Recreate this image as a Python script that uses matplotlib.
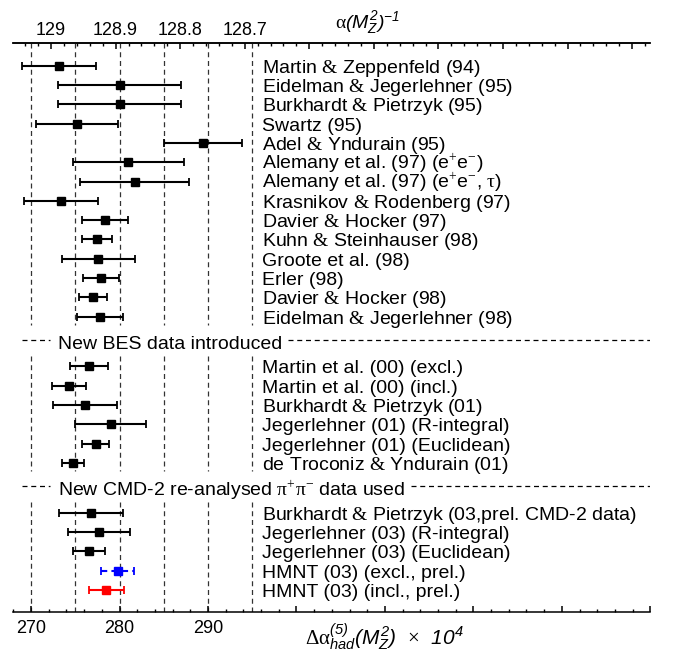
import matplotlib.pyplot as plt
from matplotlib.ticker import MultipleLocator

plt.rcParams['font.family'] = ['Liberation Sans', 'DejaVu Sans']
plt.rcParams['mathtext.fontset'] = 'custom'
plt.rcParams['mathtext.rm'] = 'Liberation Serif'
plt.rcParams['mathtext.it'] = 'Liberation Sans:italic'
plt.rcParams['mathtext.sf'] = 'Liberation Sans:italic'

# Delta alpha_had^(5)(MZ^2) x 10^4, one entry per analysis
labels = [
    'Martin & Zeppenfeld (94)',
    'Eidelman & Jegerlehner (95)',
    'Burkhardt & Pietrzyk (95)',
    'Swartz (95)',
    'Adel & Yndurain (95)',
    'Alemany et al. (97) (e$^{+}$e$^{-}$)',
    r'Alemany et al. (97) (e$^{+}$e$^{-}$, $\mathrm{\tau}$)',
    'Krasnikov & Rodenberg (97)',
    'Davier & Hocker (97)',
    'Kuhn & Steinhauser (98)',
    'Groote et al. (98)',
    'Erler (98)',
    'Davier & Hocker (98)',
    'Eidelman & Jegerlehner (98)',
    'Martin et al. (00) (excl.)',
    'Martin et al. (00) (incl.)',
    'Burkhardt & Pietrzyk (01)',
    'Jegerlehner (01) (R-integral)',
    'Jegerlehner (01) (Euclidean)',
    'de Troconiz & Yndurain (01)',
    'Burkhardt & Pietrzyk (03,prel. CMD-2 data)',
    'Jegerlehner (03) (R-integral)',
    'Jegerlehner (03) (Euclidean)',
    'HMNT (03) (excl., prel.)',
    'HMNT (03) (incl., prel.)',
]
values = [273.2, 280.0, 280.0, 275.2, 289.4, 281.0, 281.7, 273.4, 278.4, 277.5,
          277.6, 277.9, 277.0, 277.8, 276.5, 274.3, 276.1, 279.0, 277.3, 274.7,
          276.8, 277.7, 276.6, 279.8, 278.5]
errors = [4.2, 7.0, 7.0, 4.6, 4.4, 6.3, 6.2, 4.2, 2.6, 1.7,
          4.1, 2.0, 1.6, 2.6, 2.15, 1.9, 3.6, 4.0, 1.5, 1.25,
          3.6, 3.5, 1.8, 1.85, 2.0]
colors = ['black'] * 23 + ['blue', 'red']
group_sizes = [14, 6, 5]
headers = ['New BES data introduced',
           r'New CMD-2 re-analysed $\mathrm{\pi}^{+}\mathrm{\pi}^{-}$ data used']

# row positions (from top), with a gap for each header
gap = 2.58
ypos = []
header_y = []
y = 0.0
for g, n in enumerate(group_sizes):
    if g > 0:
        header_y.append(y - 1 + gap / 2)
        y = y - 1 + gap
    for i in range(n):
        ypos.append(y)
        y += 1

fig = plt.figure(figsize=(6.77, 6.56), dpi=100)
ax = fig.add_axes([0.0197, 0.0671, 0.9409, 0.8678])
ax.set_xlim(268, 340)
ax.set_ylim(ypos[-1] + 1.14, -1.19)

# vertical dashed reference lines, broken at the headers
starts = [-1.19] + [ypos[sum(group_sizes[:g])] - 0.55 for g in range(1, len(group_sizes))]
ends = [ypos[sum(group_sizes[:g + 1]) - 1] + 0.43 for g in range(len(group_sizes) - 1)] + [ypos[-1] + 1.14]
for xv in [270, 275, 280, 285, 290, 295]:
    for s, e in zip(starts, ends):
        ax.plot([xv, xv], [s, e], color='#333333', lw=0.9, ls=(0, (4, 3)), zorder=1)

for v, err, yy, c, lab in zip(values, errors, ypos, colors, labels):
    cont = ax.errorbar(v, yy, xerr=err, fmt='s', color=c, ms=5.6, lw=1.5,
                       capsize=3, capthick=1.3, zorder=3)
    if c == 'blue':
        cont[2][0].set_linestyle((0, (3, 2)))
    ax.text(296.1, yy + 0.36, lab.replace('&', r'$\mathrm{&}$'), fontsize=14,
            va='baseline', ha='left')

fig.canvas.draw()
rend = fig.canvas.get_renderer()
for hy, htxt in zip(header_y, headers):
    t = ax.text(273.1, hy + 0.41, htxt, fontsize=14, va='baseline', ha='left')
    bb = t.get_window_extent(rend).transformed(ax.transData.inverted())
    ax.plot([268.95, 272.1], [hy - 0.08, hy - 0.08], color='black', lw=0.9, ls=(0, (4, 3)))
    ax.plot([bb.x1 + 0.6, 340], [hy - 0.08, hy - 0.08], color='black', lw=0.9, ls=(0, (4, 3)))

for side in ['left', 'right']:
    ax.spines[side].set_visible(False)
ax.spines['bottom'].set_linewidth(1.1)
ax.spines['top'].set_linewidth(1.1)
ax.set_yticks([])
ax.set_xticks(range(270, 341, 10), ['270', '280', '290', '', '', '', '', ''])
ax.xaxis.set_minor_locator(MultipleLocator(2))
ax.tick_params(axis='x', which='both', direction='in', top=False, labelsize=13, pad=6)
ax.tick_params(axis='x', which='major', length=4, width=1.1)
ax.tick_params(axis='x', which='minor', length=2, width=1.0)

A = 132.731
B = 0.0137036
secax = ax.secondary_xaxis('top', functions=(lambda x: A - B * x, lambda a: (A - a) / B))
secax.set_xticks([129.0, 128.9, 128.8, 128.7, 128.6, 128.5, 128.4, 128.3, 128.2, 128.1],
                 ['129', '128.9', '128.8', '128.7', '', '', '', '', '', ''])
secax.set_xticks([round(128.02 + 0.02 * i, 2) for i in range(52)], minor=True)
secax.tick_params(axis='x', which='both', direction='in', labelsize=13, pad=2.5)
secax.tick_params(axis='x', which='major', length=4, width=1.1)
secax.tick_params(axis='x', which='minor', length=2, width=1.0)
secax.spines['top'].set_linewidth(1.1)

fig.text(335 / 677, 1 - 28 / 656,
         r'$\mathrm{\alpha}\mathsf{(}M^{\mathsf{2}}_{Z}\mathsf{)}^{\mathsf{-1}}$',
         fontsize=14, ha='left', va='baseline')
fig.text(305 / 677, 11 / 656,
         r'$\mathrm{\Delta\alpha}^{\mathsf{(5)}}_{had}\mathsf{(}M^{\mathsf{2}}_{Z}\mathsf{)}'
         r'\ \ \mathrm{\times}\ \ \mathsf{10}^{\mathsf{4}}$',
         fontsize=15, ha='left', va='baseline')

fig.savefig('out.png', dpi=100)
